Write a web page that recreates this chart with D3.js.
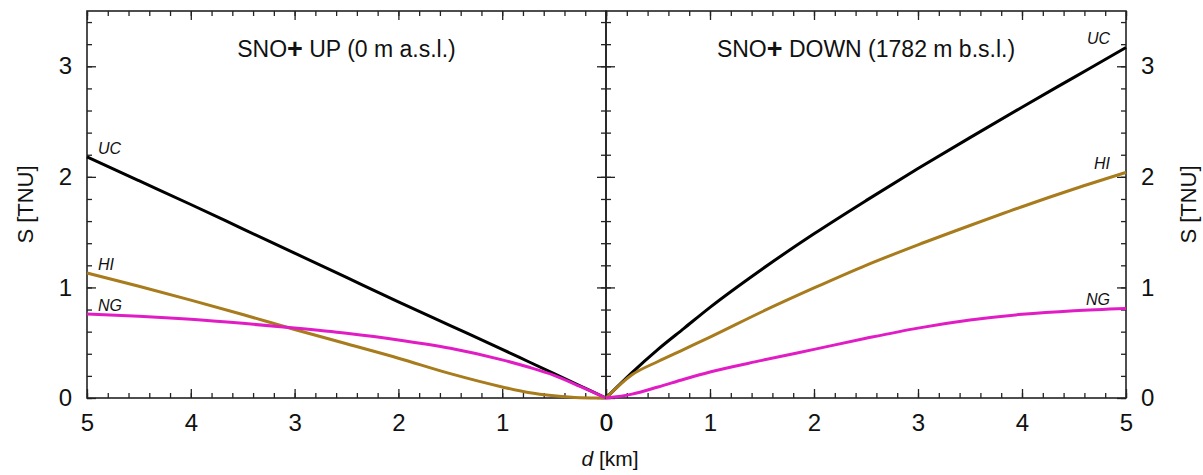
<!DOCTYPE html>
<html>
<head>
<meta charset="utf-8">
<script src="https://cdn.jsdelivr.net/npm/d3@7"></script>
<style>
  body { margin: 0; background: #fff; }
  text { font-family: "Liberation Sans", Arial, sans-serif; fill: #111; }
  .tick text { font-size: 24px; }
  .curve { fill: none; stroke-width: 3; stroke-linejoin: round; }
  .clabel { font-size: 16px; font-style: italic; }
</style>
</head>
<body>
<script>
// chart size and panel layout
const W = 1203, H = 475;
const plot = { left: 87, mid: 606, right: 1126, top: 11, bottom: 398 };

// distances along the track, km
const distances = [0, 0.25, 0.5, 0.75, 1, 1.5, 2, 2.5, 3, 3.5, 4, 4.5, 5];

// S [TNU], SNO+ UP (0 m a.s.l.)
const upUC = [0, 0.11, 0.22, 0.33, 0.44, 0.655, 0.87, 1.09, 1.31, 1.53, 1.75, 1.965, 2.18];
const upHI = [0, 0.003, 0.02, 0.05, 0.10, 0.22, 0.36, 0.49, 0.62, 0.755, 0.885, 1.01, 1.13];
const upNG = [0, 0.105, 0.205, 0.28, 0.345, 0.45, 0.525, 0.585, 0.633, 0.675, 0.712, 0.74, 0.76];

// S [TNU], SNO+ DOWN (1782 m b.s.l.)
const downUC = [0, 0.23, 0.44, 0.63, 0.82, 1.165, 1.485, 1.785, 2.075, 2.355, 2.63, 2.90, 3.17];
const downHI = [0, 0.21, 0.33, 0.44, 0.55, 0.78, 0.995, 1.2, 1.385, 1.56, 1.73, 1.89, 2.04];
const downNG = [0, 0.035, 0.10, 0.17, 0.235, 0.34, 0.44, 0.54, 0.632, 0.705, 0.757, 0.79, 0.81];

const seriesNames = ["UC", "HI", "NG"];
const seriesColors = { UC: "#000000", HI: "#a87b1c", NG: "#e21cc4" };

const panels = [
  { title: "UP (0 m a.s.l.)", domain: [5, 0], range: [plot.left, plot.mid],
    values: { UC: upUC, HI: upHI, NG: upNG }, side: "left" },
  { title: "DOWN (1782 m b.s.l.)", domain: [0, 5], range: [plot.mid, plot.right],
    values: { UC: downUC, HI: downHI, NG: downNG }, side: "right" }
];

const yTicks = [0, 1, 2, 3];
const xTicks = [0, 1, 2, 3, 4, 5];

const svg = d3.select("body").append("svg")
  .attr("width", W)
  .attr("height", H);

const y = d3.scaleLinear().domain([0, 3.5]).range([plot.bottom, plot.top]);
const minorY = d3.range(0, 3.5001, 0.2);
const minorX = d3.range(0, 5.0001, 0.2);

function styleAxis(g) {
  g.select(".domain").remove();
  g.selectAll(".tick line").attr("stroke", "#222").attr("stroke-width", 1.3);
}

panels.forEach(p => {
  const x = d3.scaleLinear().domain(p.domain).range(p.range);
  const g = svg.append("g");
  const x0 = p.range[0], x1 = p.range[1];

  // bottom axis (major with labels, minor without)
  g.append("g").attr("transform", `translate(0,${plot.bottom})`)
    .call(d3.axisBottom(x).tickValues(minorX).tickSize(-5).tickFormat(""))
    .call(styleAxis);
  g.append("g").attr("transform", `translate(0,${plot.bottom})`)
    .call(d3.axisBottom(x).tickValues(xTicks).tickSize(-9).tickFormat(d3.format("d")))
    .call(styleAxis)
    .call(a => a.selectAll(".tick text").attr("dy", "0.71em").attr("y", 16));

  // top axis ticks
  g.append("g").attr("transform", `translate(0,${plot.top})`)
    .call(d3.axisTop(x).tickValues(minorX).tickSize(-5).tickFormat(""))
    .call(styleAxis);
  g.append("g").attr("transform", `translate(0,${plot.top})`)
    .call(d3.axisTop(x).tickValues(xTicks).tickSize(-9).tickFormat(""))
    .call(styleAxis);

  // vertical edges: inward ticks on both edges of each panel
  const outer = p.side === "left" ? x0 : x1;
  const inner = p.side === "left" ? x1 : x0;
  const outerAxis = p.side === "left" ? d3.axisLeft : d3.axisRight;
  const innerAxis = p.side === "left" ? d3.axisRight : d3.axisLeft;

  g.append("g").attr("transform", `translate(${outer},0)`)
    .call(outerAxis(y).tickValues(minorY).tickSize(-5).tickFormat(""))
    .call(styleAxis);
  g.append("g").attr("transform", `translate(${outer},0)`)
    .call(outerAxis(y).tickValues(yTicks).tickSize(-9).tickPadding(15).tickFormat(d3.format("d")))
    .call(styleAxis);
  g.append("g").attr("transform", `translate(${inner},0)`)
    .call(innerAxis(y).tickValues(minorY).tickSize(-5).tickFormat(""))
    .call(styleAxis);
  g.append("g").attr("transform", `translate(${inner},0)`)
    .call(innerAxis(y).tickValues(yTicks).tickSize(-9).tickFormat(""))
    .call(styleAxis);

  // frame
  g.append("rect")
    .attr("x", Math.min(x0, x1)).attr("y", plot.top)
    .attr("width", Math.abs(x1 - x0)).attr("height", plot.bottom - plot.top)
    .attr("fill", "none").attr("stroke", "#222").attr("stroke-width", 1.6);

  // curves
  const line = d3.line()
    .x((d, i) => x(distances[i]))
    .y(d => y(d))
    .curve(d3.curveMonotoneX);

  seriesNames.forEach(name => {
    const vals = p.values[name];
    g.append("path")
      .datum(vals)
      .attr("class", "curve")
      .attr("stroke", seriesColors[name])
      .attr("d", line);

    const last = vals[vals.length - 1];
    g.append("text")
      .attr("class", "clabel")
      .attr("x", p.side === "left" ? x(5) + 11 : x(5) - 16)
      .attr("y", y(last) - 3)
      .attr("text-anchor", p.side === "left" ? "start" : "end")
      .text(name);
  });

  // panel title
  const title = g.append("text")
    .attr("x", (x0 + x1) / 2)
    .attr("y", 57)
    .attr("text-anchor", "middle")
    .attr("font-size", 23);
  title.append("tspan").text("SNO");
  title.append("tspan").attr("font-weight", "bold").attr("font-size", 27).attr("dy", 1).text("+");
  title.append("tspan").attr("dy", -1).text(" " + p.title);
});

// axis titles
svg.append("text")
  .attr("transform", `translate(33,${(plot.top + plot.bottom) / 2}) rotate(-90)`)
  .attr("text-anchor", "middle")
  .attr("font-size", 22)
  .text("S [TNU]");

svg.append("text")
  .attr("transform", `translate(1196,${(plot.top + plot.bottom) / 2}) rotate(-90)`)
  .attr("text-anchor", "middle")
  .attr("font-size", 22)
  .text("S [TNU]");

const xt = svg.append("text")
  .attr("x", plot.mid + 4)
  .attr("y", 466)
  .attr("text-anchor", "middle")
  .attr("font-size", 21);
xt.append("tspan").attr("font-style", "italic").text("d");
xt.append("tspan").text(" [km]");
</script>
</body>
</html>
